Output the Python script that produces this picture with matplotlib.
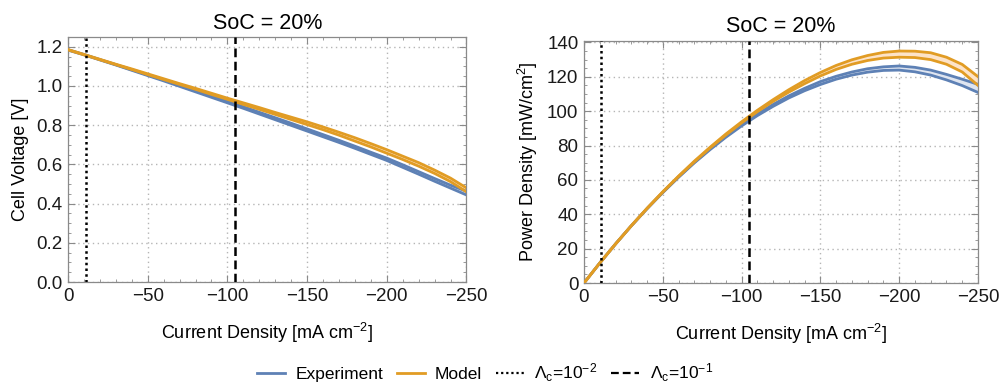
import matplotlib
matplotlib.use("Agg")
import matplotlib.pyplot as plt
from matplotlib.ticker import MultipleLocator, FormatStrFormatter
from matplotlib.lines import Line2D

plt.rcParams["font.family"] = ["Liberation Sans", "DejaVu Sans"]
plt.rcParams["mathtext.fontset"] = "custom"
plt.rcParams["mathtext.rm"] = "Liberation Sans"
plt.rcParams["mathtext.it"] = "Liberation Sans:italic"

# current density [mA cm^-2]
current = [0, -10, -20, -30, -40, -50, -60, -70, -80, -90, -100, -110, -120,
           -130, -140, -150, -160, -170, -180, -190, -200, -210, -220, -230, -240, -250]

# cell voltage [V], lower / upper edge of each band
volt_exp_lo = [1.183, 1.159, 1.133, 1.107, 1.080, 1.053, 1.026, 0.998, 0.970, 0.942, 0.914,
               0.886, 0.857, 0.828, 0.799, 0.770, 0.741, 0.712, 0.682, 0.651, 0.620,
               0.585, 0.550, 0.514, 0.479, 0.444]
volt_exp_hi = [1.185, 1.161, 1.135, 1.109, 1.083, 1.056, 1.030, 1.003, 0.976, 0.949, 0.921,
               0.894, 0.866, 0.838, 0.810, 0.781, 0.752, 0.723, 0.693, 0.662, 0.632,
               0.598, 0.563, 0.528, 0.494, 0.463]
volt_mod_lo = [1.184, 1.159, 1.134, 1.109, 1.084, 1.058, 1.033, 1.008, 0.983, 0.957, 0.932,
               0.906, 0.881, 0.855, 0.829, 0.803, 0.777, 0.749, 0.719, 0.689, 0.657,
               0.625, 0.591, 0.554, 0.512, 0.460]
volt_mod_hi = [1.186, 1.161, 1.136, 1.111, 1.087, 1.062, 1.037, 1.012, 0.988, 0.963, 0.938,
               0.914, 0.890, 0.865, 0.841, 0.817, 0.791, 0.764, 0.736, 0.706, 0.675,
               0.642, 0.609, 0.571, 0.530, 0.480]

# power density [mW/cm^2]
pow_exp_lo = [0, 11.6, 22.7, 33.2, 43.2, 52.6, 61.5, 69.9, 77.6, 84.8, 91.4,
              97.4, 102.8, 107.7, 111.9, 115.5, 118.6, 121.0, 122.7, 123.7, 123.9,
              122.9, 121.0, 118.2, 114.9, 110.9]
pow_exp_hi = [0, 11.6, 22.7, 33.3, 43.3, 52.8, 61.8, 70.2, 78.1, 85.4, 92.1,
              98.3, 103.9, 108.9, 113.3, 117.2, 120.3, 122.8, 124.7, 125.8, 126.3,
              125.5, 123.9, 121.4, 118.6, 115.6]
pow_mod_lo = [0, 11.6, 22.7, 33.3, 43.3, 52.9, 62.0, 70.5, 78.6, 86.1, 93.2,
              99.7, 105.7, 111.1, 116.0, 120.5, 124.3, 127.3, 129.5, 130.9, 131.4,
              131.2, 130.0, 127.3, 122.8, 115.0]
pow_mod_hi = [0, 11.6, 22.7, 33.3, 43.5, 53.1, 62.2, 70.9, 79.0, 86.7, 93.8,
              100.5, 106.7, 112.5, 117.8, 122.5, 126.6, 129.9, 132.4, 134.2, 135.0,
              134.9, 134.0, 131.4, 127.2, 120.1]

# current densities where Lambda_c reaches 1e-2 and 1e-1
lam_2 = -11
lam_1 = -105

BLUE = "#5e81b5"
ORANGE = "#e19c24"
BLUE_FILL = "#dfe5f0"
ORANGE_FILL = "#fde3c8"
FRAME = "#8a8a8a"
DOTTED = (0, (1, 1.3))
DASHED = (0, (3.5, 1.8))

fig = plt.figure(figsize=(10.01, 3.87), dpi=100)
ax1 = fig.add_axes([0.068, 0.2713, 0.398, 0.6331])
ax2 = fig.add_axes([0.5834, 0.2687, 0.3936, 0.6261])


def band(ax, lo, hi, color, fill):
    ax.fill_between(current, lo, hi, color=fill, lw=0, zorder=2)
    ax.plot(current, lo, color=color, lw=2.0, zorder=3)
    ax.plot(current, hi, color=color, lw=2.0, zorder=3)


def style(ax, ymax, ymajor, yminor, ylabel):
    ax.set_xlim(0, -250)
    ax.set_ylim(0, ymax)
    ax.xaxis.set_major_locator(MultipleLocator(50))
    ax.xaxis.set_minor_locator(MultipleLocator(10))
    ax.yaxis.set_major_locator(MultipleLocator(ymajor))
    ax.yaxis.set_minor_locator(MultipleLocator(yminor))
    ax.tick_params(which="both", direction="in", top=True, right=True,
                   color=FRAME, labelsize=13.5, labelcolor="#1a1a1a", pad=4)
    ax.tick_params(which="major", length=5, width=0.8)
    ax.tick_params(which="minor", length=2.5, width=0.6)
    for sp in ax.spines.values():
        sp.set_color(FRAME)
        sp.set_linewidth(0.9)
    ax.grid(True, which="major", ls=(0, (1, 2.5)), color="#b5b5b5", lw=1.0, zorder=0)
    ax.set_xlabel("Current Density [mA cm$^{-2}$]", fontsize=13, labelpad=12)
    ax.set_ylabel(ylabel, fontsize=13, labelpad=5)
    ax.set_title("SoC = 20%", fontsize=15.5, pad=6)
    ax.axvline(lam_2, color="black", ls=DOTTED, lw=1.8, zorder=4)
    ax.axvline(lam_1, color="black", ls=DASHED, lw=1.8, zorder=4)


band(ax1, volt_exp_lo, volt_exp_hi, BLUE, BLUE_FILL)
band(ax1, volt_mod_lo, volt_mod_hi, ORANGE, ORANGE_FILL)
style(ax1, 1.25, 0.2, 0.05, "Cell Voltage [V]")
ax1.yaxis.set_major_formatter(FormatStrFormatter("%.1f"))

band(ax2, pow_exp_lo, pow_exp_hi, BLUE, BLUE_FILL)
band(ax2, pow_mod_lo, pow_mod_hi, ORANGE, ORANGE_FILL)
style(ax2, 141, 20, 5, "Power Density [mW/cm$^2$]")

handles = [
    Line2D([], [], color=BLUE, lw=2),
    Line2D([], [], color=ORANGE, lw=2),
    Line2D([], [], color="black", ls=DOTTED, lw=1.6),
    Line2D([], [], color="black", ls=DASHED, lw=1.6),
]
labels = ["Experiment", "Model",
          r"$\Lambda_\mathregular{c}$=10$^{\mathregular{-2}}$",
          r"$\Lambda_\mathregular{c}$=10$^{\mathregular{-1}}$"]
fig.legend(handles, labels, loc="center", bbox_to_anchor=(0.4845, 0.036), ncol=4,
           frameon=False, fontsize=12.5, handlelength=1.6, handletextpad=0.6,
           columnspacing=0.8)

fig.savefig("out.png", dpi=100, facecolor="white")
